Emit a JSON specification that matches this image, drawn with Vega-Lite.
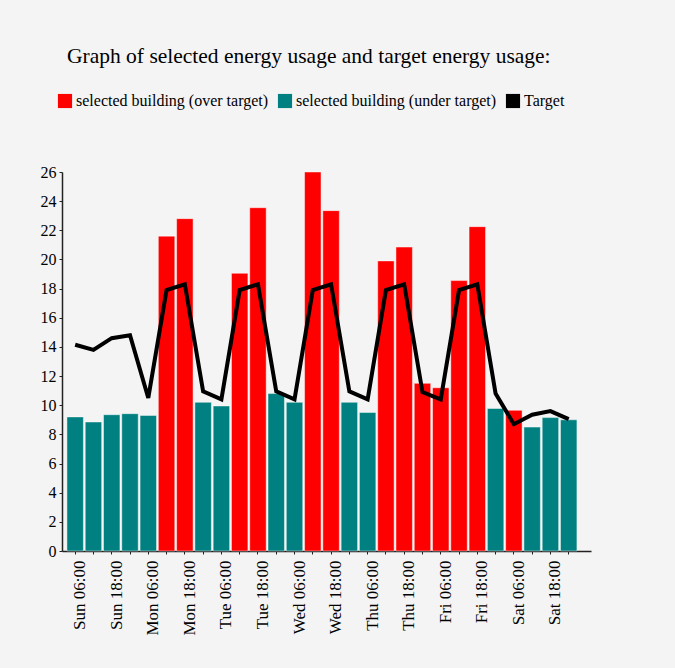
{
  "$schema": "https://vega.github.io/schema/vega-lite/v6.json",
  "autosize": {"type": "none"},
  "width": 529,
  "height": 379,
  "padding": {"left": 62, "top": 172, "right": 84, "bottom": 117},
  "background": "#f4f4f4",
  "title": {
    "text": "Graph of selected energy usage and target energy usage:",
    "anchor": "start",
    "frame": "group",
    "dx": 5,
    "offset": 26,
    "font": "Liberation Serif",
    "fontSize": 21.5,
    "fontWeight": "normal",
    "color": "#000000"
  },
  "config": {
    "view": {"stroke": null},
    "font": "Liberation Serif",
    "axis": {
      "labelFont": "Liberation Serif",
      "labelFontSize": 16,
      "labelColor": "#000000",
      "labelOverlap": false,
      "domainColor": "#222222",
      "domainWidth": 1.5,
      "tickColor": "#222222",
      "tickSize": 3,
      "grid": false,
      "title": null
    },
    "legend": {
      "labelFont": "Liberation Serif",
      "labelFontSize": 16,
      "labelColor": "#000000",
      "labelLimit": 0
    }
  },
  "data": {
    "values": [
      {"time": "Sun 06:00", "usage": 9.2, "target": 14.15, "status": "selected building (under target)"},
      {"time": "Sun 12:00", "usage": 8.85, "target": 13.8, "status": "selected building (under target)"},
      {"time": "Sun 18:00", "usage": 9.35, "target": 14.6, "status": "selected building (under target)"},
      {"time": "Mon 00:00", "usage": 9.42, "target": 14.8, "status": "selected building (under target)"},
      {"time": "Mon 06:00", "usage": 9.3, "target": 10.5, "status": "selected building (under target)"},
      {"time": "Mon 12:00", "usage": 21.6, "target": 17.9, "status": "selected building (over target)"},
      {"time": "Mon 18:00", "usage": 22.8, "target": 18.3, "status": "selected building (over target)"},
      {"time": "Tue 00:00", "usage": 10.2, "target": 10.95, "status": "selected building (under target)"},
      {"time": "Tue 06:00", "usage": 9.95, "target": 10.4, "status": "selected building (under target)"},
      {"time": "Tue 12:00", "usage": 19.05, "target": 17.9, "status": "selected building (over target)"},
      {"time": "Tue 18:00", "usage": 23.55, "target": 18.3, "status": "selected building (over target)"},
      {"time": "Wed 00:00", "usage": 10.8, "target": 10.95, "status": "selected building (under target)"},
      {"time": "Wed 06:00", "usage": 10.2, "target": 10.4, "status": "selected building (under target)"},
      {"time": "Wed 12:00", "usage": 26.0, "target": 17.9, "status": "selected building (over target)"},
      {"time": "Wed 18:00", "usage": 23.35, "target": 18.3, "status": "selected building (over target)"},
      {"time": "Thu 00:00", "usage": 10.2, "target": 10.95, "status": "selected building (under target)"},
      {"time": "Thu 06:00", "usage": 9.5, "target": 10.4, "status": "selected building (under target)"},
      {"time": "Thu 12:00", "usage": 19.9, "target": 17.9, "status": "selected building (over target)"},
      {"time": "Thu 18:00", "usage": 20.85, "target": 18.3, "status": "selected building (over target)"},
      {"time": "Fri 00:00", "usage": 11.5, "target": 10.9, "status": "selected building (over target)"},
      {"time": "Fri 06:00", "usage": 11.2, "target": 10.4, "status": "selected building (over target)"},
      {"time": "Fri 12:00", "usage": 18.55, "target": 17.9, "status": "selected building (over target)"},
      {"time": "Fri 18:00", "usage": 22.25, "target": 18.3, "status": "selected building (over target)"},
      {"time": "Sat 00:00", "usage": 9.78, "target": 10.8, "status": "selected building (under target)"},
      {"time": "Sat 06:00", "usage": 9.65, "target": 8.7, "status": "selected building (over target)"},
      {"time": "Sat 12:00", "usage": 8.5, "target": 9.35, "status": "selected building (under target)"},
      {"time": "Sat 18:00", "usage": 9.15, "target": 9.6, "status": "selected building (under target)"},
      {"time": "Sun 00:00", "usage": 9.0, "target": 9.05, "status": "selected building (under target)"}
    ]
  },
  "encoding": {
    "x": {
      "field": "time",
      "type": "nominal",
      "sort": null,
      "scale": {"paddingInner": 0.1, "paddingOuter": 0.52, "align": 0.26},
      "axis": {
        "labelAngle": -90,
        "labelPadding": 6,
        "labelOffset": 5,
        "labelFontSize": 17,
        "labelExpr": "test(/06:00|18:00/, datum.label) ? datum.label : ''"
      }
    }
  },
  "layer": [
    {
      "mark": {"type": "bar", "stroke": "#ffffff", "strokeOpacity": 0.45, "strokeWidth": 1},
      "encoding": {
        "y": {
          "field": "usage",
          "type": "quantitative",
          "scale": {"domain": [0, 26], "nice": false},
          "axis": {"values": [0, 2, 4, 6, 8, 10, 12, 14, 16, 18, 20, 22, 24, 26], "labelPadding": 3, "labelOverlap": false}
        },
        "color": {
          "field": "status",
          "type": "nominal",
          "scale": {
            "domain": ["selected building (over target)", "selected building (under target)", "Target"],
            "range": ["#ff0000", "#008080", "#000000"]
          },
          "legend": {
            "title": null,
            "orient": "none",
            "legendX": -5,
            "legendY": -79,
            "direction": "horizontal",
            "symbolType": "square",
            "symbolSize": 200,
            "symbolStrokeWidth": 0,
            "symbolOpacity": 1,
            "labelOffset": 3,
            "columnPadding": 8
          }
        }
      }
    },
    {
      "mark": {"type": "line", "strokeWidth": 4, "strokeJoin": "miter"},
      "encoding": {
        "y": {
          "field": "target",
          "type": "quantitative",
          "scale": {"domain": [0, 26], "nice": false},
          "axis": {"values": [0, 2, 4, 6, 8, 10, 12, 14, 16, 18, 20, 22, 24, 26], "labelPadding": 3, "labelOverlap": false}
        },
        "color": {"datum": "Target"}
      }
    }
  ]
}
